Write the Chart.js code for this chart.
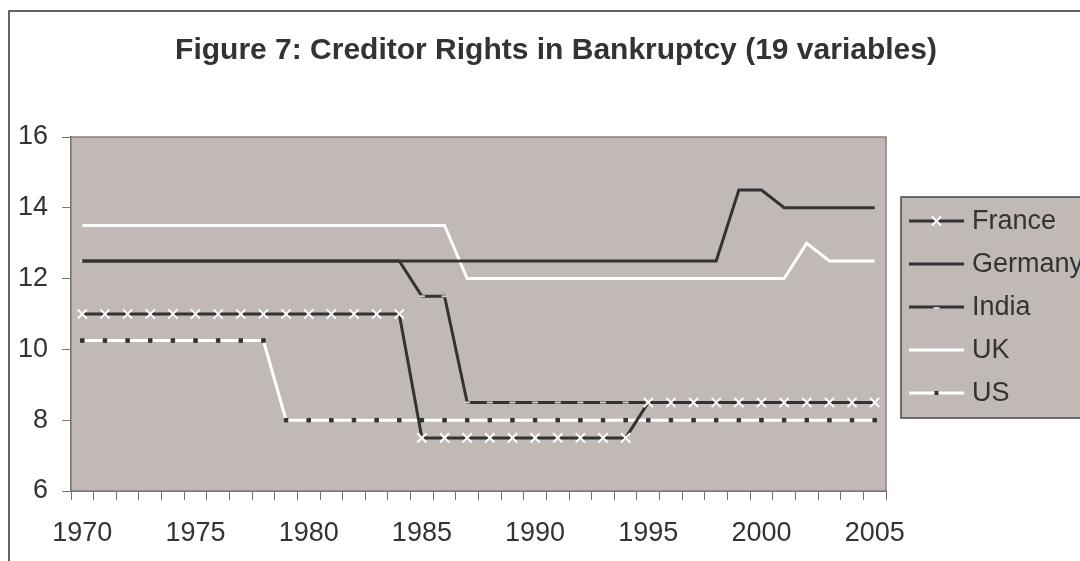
<!DOCTYPE html>
<html>
<head>
<meta charset="utf-8">
<script src="https://cdn.jsdelivr.net/npm/chart.js@4/dist/chart.umd.min.js"></script>
<style>
  html, body { margin: 0; padding: 0; background: #fff; overflow: hidden; }
  #wrap { width: 1080px; height: 561px; overflow: hidden; }
</style>
</head>
<body>
<div id="wrap"><canvas id="figura7" width="1112" height="561"></canvas></div>
<script>
var years = ['1970','1971','1972','1973','1974','1975','1976','1977','1978','1979',
             '1980','1981','1982','1983','1984','1985','1986','1987','1988','1989',
             '1990','1991','1992','1993','1994','1995','1996','1997','1998','1999',
             '2000','2001','2002','2003','2004','2005'];

var france  = [11,11,11,11,11,11,11,11,11,11,11,11,11,11,11,
               7.5,7.5,7.5,7.5,7.5,7.5,7.5,7.5,7.5,7.5,
               8.5,8.5,8.5,8.5,8.5,8.5,8.5,8.5,8.5,8.5,8.5];
var germany = [12.5,12.5,12.5,12.5,12.5,12.5,12.5,12.5,12.5,12.5,
               12.5,12.5,12.5,12.5,12.5,12.5,12.5,12.5,12.5,12.5,
               12.5,12.5,12.5,12.5,12.5,12.5,12.5,12.5,12.5,
               14.5,14.5,14,14,14,14,14];
var india   = [12.5,12.5,12.5,12.5,12.5,12.5,12.5,12.5,12.5,12.5,12.5,12.5,12.5,12.5,12.5,
               11.5,11.5,
               8.5,8.5,8.5,8.5,8.5,8.5,8.5,8.5,8.5,8.5,8.5,8.5,8.5,8.5,8.5,8.5,8.5,8.5,8.5];
var uk      = [13.5,13.5,13.5,13.5,13.5,13.5,13.5,13.5,13.5,13.5,13.5,13.5,13.5,13.5,13.5,13.5,13.5,
               12,12,12,12,12,12,12,12,12,12,12,12,12,12,12,
               13,12.5,12.5,12.5];
var us      = [10.25,10.25,10.25,10.25,10.25,10.25,10.25,10.25,10.25,
               8,8,8,8,8,8,8,8,8,8,8,8,8,8,8,8,8,8,8,8,8,8,8,8,8,8,8];

var yTicks = [6, 8, 10, 12, 14, 16];

var fuente = "'Liberation Sans', Arial, sans-serif";
var oscuro = '#333333';
var fondoPlot = '#c1b9b6';

// fondo gris del area de trazado, marco exterior y leyenda en caja
var decoracion = {
    id: 'decoracion',
    beforeDatasetsDraw: function(chart) {
        var a = chart.chartArea, c = chart.ctx;
        c.save();
        c.fillStyle = fondoPlot;
        c.fillRect(a.left, a.top, a.right - a.left, a.bottom - a.top);
        c.strokeStyle = '#8a7f7c';
        c.lineWidth = 1.5;
        c.strokeRect(a.left, a.top, a.right - a.left, a.bottom - a.top);
        c.restore();
    },
    afterDraw: function(chart) {
        var c = chart.ctx;
        c.save();
        // borde del grafico
        c.strokeStyle = oscuro;
        c.lineWidth = 1.5;
        c.beginPath();
        c.moveTo(9, 570); c.lineTo(9, 11); c.lineTo(1120, 11);
        c.stroke();

        // leyenda
        c.fillStyle = fondoPlot;
        c.fillRect(901, 197, 200, 221);
        c.strokeStyle = '#4a4646';
        c.lineWidth = 1.5;
        c.strokeRect(901, 197, 200, 221);

        c.font = '27px ' + fuente;
        c.textBaseline = 'middle';
        chart.data.datasets.forEach(function(ds, i) {
            var y = 221 + i * 43;
            var x0 = 909, x1 = 964, xm = (x0 + x1) / 2;
            c.strokeStyle = ds.borderColor;
            c.lineWidth = ds.borderWidth;
            c.beginPath(); c.moveTo(x0, y); c.lineTo(x1, y); c.stroke();
            if (ds.pointStyle === 'crossRot') {
                var r = 4.5;
                c.strokeStyle = ds.pointBorderColor; c.lineWidth = 2;
                c.beginPath();
                c.moveTo(xm - r, y - r); c.lineTo(xm + r, y + r);
                c.moveTo(xm - r, y + r); c.lineTo(xm + r, y - r);
                c.stroke();
            } else if (ds.pointStyle === 'line') {
                c.strokeStyle = ds.pointBorderColor; c.lineWidth = 2;
                c.beginPath(); c.moveTo(xm - 3, y + 1); c.lineTo(xm + 3, y + 1); c.stroke();
            } else if (ds.pointStyle === 'rect') {
                c.fillStyle = ds.pointBackgroundColor;
                c.fillRect(xm - 2, y - 2, 4, 4);
            }
            c.fillStyle = oscuro;
            c.fillText(ds.label, 972, y + 1);
        });
        c.restore();
    }
};

var ctx = document.getElementById('figura7').getContext('2d');
var chart = new Chart(ctx, {
    type: 'line',
    data: {
        labels: years,
        datasets: [
            { label: 'France', data: france, borderColor: oscuro, borderWidth: 3,
              pointStyle: 'crossRot', pointRadius: 6.5, pointBorderColor: '#ffffff',
              pointBackgroundColor: '#ffffff', pointBorderWidth: 2 },
            { label: 'Germany', data: germany, borderColor: oscuro, borderWidth: 3,
              pointRadius: 0 },
            { label: 'India', data: india, borderColor: oscuro, borderWidth: 3,
              pointStyle: 'line', pointRadius: 3, pointBorderColor: '#d2ccca',
              pointBorderWidth: 2 },
            { label: 'UK', data: uk, borderColor: '#ffffff', borderWidth: 3,
              pointRadius: 0 },
            { label: 'US', data: us, borderColor: '#ffffff', borderWidth: 3,
              pointStyle: 'rect', pointRadius: 2.5, pointBackgroundColor: oscuro,
              pointBorderColor: oscuro, pointBorderWidth: 1 }
        ]
    },
    options: {
        responsive: false,
        animation: false,
        layout: { padding: 0 },
        elements: { line: { tension: 0 } },
        plugins: {
            legend: { display: false },
            tooltip: { enabled: false },
            title: {
                display: true,
                text: 'Figure 7: Creditor Rights in Bankruptcy (19 variables)',
                color: oscuro,
                font: { family: fuente, size: 30, weight: 'bold' },
                padding: { top: 33, bottom: 68 }
            }
        },
        scales: {
            x: {
                offset: true,
                grid: { offset: true, drawOnChartArea: false, drawTicks: true,
                        tickLength: 9, color: '#7a7272' },
                border: { display: true, color: '#595151', width: 2 },
                ticks: {
                    autoSkip: false, maxRotation: 0, padding: 17,
                    color: oscuro, font: { family: fuente, size: 27 },
                    callback: function(v, i) { return (+years[i]) % 5 === 0 ? years[i] : ''; }
                },
                afterFit: function(s) { s.height = 70; }
            },
            y: {
                min: 6, max: 16,
                afterBuildTicks: function(s) { s.ticks = yTicks.map(function(v) { return { value: v }; }); },
                grid: { drawOnChartArea: false, drawTicks: true, tickLength: 9, color: '#7a7272' },
                border: { display: true, color: '#595151', width: 2 },
                ticks: { padding: 14, color: oscuro, font: { family: fuente, size: 27 } },
                afterFit: function(s) { s.width = 71; }
            },
            hueco: {
                position: 'right',
                display: true,
                grid: { display: false },
                border: { display: false },
                ticks: { display: false },
                afterFit: function(s) { s.width = 226; }
            }
        }
    },
    plugins: [decoracion]
});
</script>
</body>
</html>
